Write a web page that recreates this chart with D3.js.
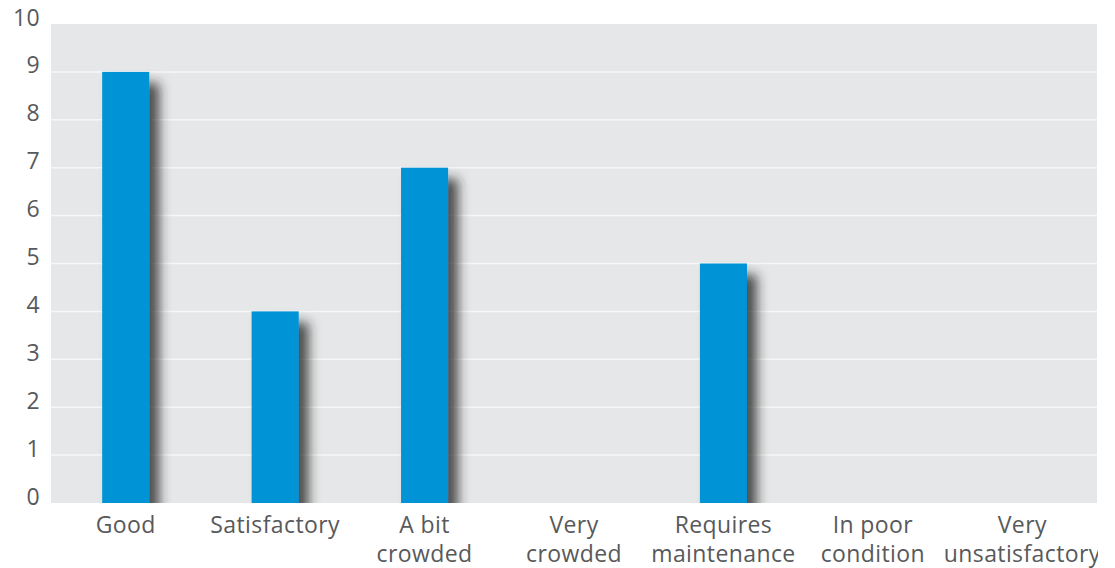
<!DOCTYPE html>
<html>
<head>
<meta charset="utf-8">
<script src="https://cdn.jsdelivr.net/npm/d3@7"></script>
<style>
  html, body { margin: 0; padding: 0; background: #fff; }
  svg { display: block; }
  text { font-family: "Open Sans", Lato, sans-serif; fill: #58595b; }
</style>
</head>
<body>
<svg id="chart" width="1115" height="568"></svg>
<script>
// Survey answers and their counts
const categories = [
  ["Good"],
  ["Satisfactory"],
  ["A bit", "crowded"],
  ["Very", "crowded"],
  ["Requires", "maintenance"],
  ["In poor", "condition"],
  ["Very", "unsatisfactory"]
];
const values = [9, 4, 7, 0, 5, 0, 0];
const yTicks = [0, 1, 2, 3, 4, 5, 6, 7, 8, 9, 10];

const W = 1115, H = 568;
const margin = { left: 51, right: 18, top: 24, bottom: 65 };
const innerW = W - margin.left - margin.right;
const innerH = H - margin.top - margin.bottom;
const fontStack = "'Open Sans', Lato, sans-serif";

const svg = d3.select("#chart");
const defs = svg.append("defs");

const shadow = defs.append("filter")
  .attr("id", "barShadow")
  .attr("x", "-20%").attr("y", "-20%")
  .attr("width", "250%").attr("height", "150%");
shadow.append("feDropShadow")
  .attr("dx", 10).attr("dy", 11)
  .attr("stdDeviation", 6)
  .attr("flood-color", "#262626")
  .attr("flood-opacity", 0.8);

defs.append("clipPath").attr("id", "plotClip")
  .append("rect").attr("width", innerW).attr("height", innerH);
defs.append("clipPath").attr("id", "labelClip")
  .append("rect").attr("x", -margin.left).attr("y", 0)
  .attr("width", margin.left + innerW + 1).attr("height", H);

const g = svg.append("g").attr("transform", `translate(${margin.left},${margin.top})`);

const x = d3.scaleBand()
  .domain(categories.map((d, i) => i))
  .range([0, innerW])
  .paddingInner(0.685)
  .paddingOuter(0.3425);

const y = d3.scaleLinear().domain([0, 10]).range([innerH, 0]);

// Plot background
g.append("rect")
  .attr("width", innerW).attr("height", innerH)
  .attr("fill", "#e6e7e8");

// Horizontal grid
g.append("g")
  .selectAll("line")
  .data(yTicks.filter(t => t > 0 && t < 10))
  .join("line")
  .attr("x1", 0).attr("x2", innerW)
  .attr("y1", d => y(d)).attr("y2", d => y(d))
  .attr("stroke", "#f7f7f8").attr("stroke-width", 1.5);

// Bars with soft shadow
g.append("g").attr("clip-path", "url(#plotClip)")
  .selectAll("rect")
  .data(values.map((v, i) => ({ v, i })).filter(d => d.v > 0))
  .join("rect")
  .attr("x", d => x(d.i))
  .attr("y", d => y(d.v))
  .attr("width", x.bandwidth())
  .attr("height", d => innerH - y(d.v))
  .attr("fill", "#0093d6")
  .attr("filter", "url(#barShadow)");

// Y axis labels: baseline sits on the grid line
const yAxis = g.append("g")
  .call(d3.axisLeft(y).tickValues(yTicks).tickSize(0).tickPadding(11).tickFormat(d3.format("d")));
yAxis.select(".domain").remove();
yAxis.selectAll("text")
  .attr("dy", "0em")
  .attr("y", 1)
  .style("font-size", "23px")
  .style("letter-spacing", "0.4px")
  .style("fill", "#58595b")
  .style("font-family", fontStack);

// X axis category labels (two lines where needed)
const xLab = g.append("g")
  .attr("transform", `translate(0,${innerH})`)
  .attr("clip-path", "url(#labelClip)");
xLab.selectAll("text")
  .data(categories.map((lines, i) => ({ lines, i })))
  .join("text")
  .attr("text-anchor", "middle")
  .attr("x", d => x(d.i) + x.bandwidth() / 2)
  .style("font-size", "23px")
  .style("letter-spacing", "0.4px")
  .style("font-family", fontStack)
  .each(function (d) {
    d3.select(this).selectAll("tspan")
      .data(d.lines)
      .join("tspan")
      .attr("x", x(d.i) + x.bandwidth() / 2)
      .attr("y", (l, k) => 30 + k * 29)
      .text(l => l);
  });
</script>
</body>
</html>
